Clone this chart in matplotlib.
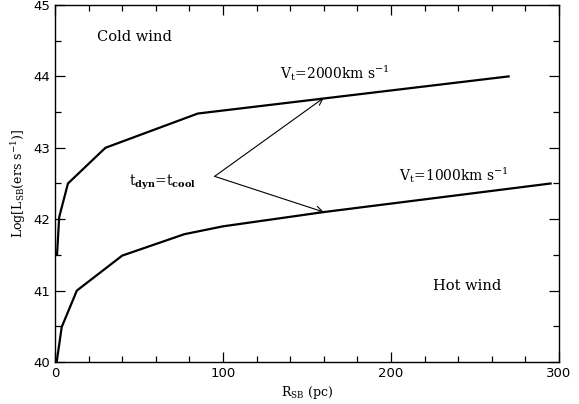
import matplotlib
matplotlib.use('Agg')
import matplotlib.pyplot as plt
from matplotlib.ticker import MultipleLocator

# curve values
r_2000 = [1.2, 2.5, 7.7, 30, 85, 270]
l_2000 = [41.5, 42.03, 42.5, 43.0, 43.48, 44.0]

r_1000 = [1.0, 4.0, 13, 40, 77, 100, 130, 160, 295]
l_1000 = [40.0, 40.49, 41.0, 41.49, 41.79, 41.9, 42.0, 42.1, 42.5]

# arrow from label to both curves
arrow_start = (95, 42.6)
arrow_ends = [(160, 43.70), (160, 42.1)]

plt.rcParams['font.family'] = ['DejaVu Serif']
plt.rcParams['mathtext.fontset'] = 'dejavuserif'

fig = plt.figure(figsize=(5.79, 4.04), dpi=100)
ax = fig.add_axes([0.095, 0.104, 0.8705, 0.8836])

ax.plot(r_2000, l_2000, color='black', lw=1.6)
ax.plot(r_1000, l_1000, color='black', lw=1.6)

for end in arrow_ends:
    ax.annotate('', xy=end, xytext=arrow_start,
                arrowprops=dict(arrowstyle='->', color='black', lw=0.8,
                                shrinkA=0, shrinkB=0, mutation_scale=12))

ax.text(25, 44.55, 'Cold wind', fontsize=10.5, va='center')
ax.text(225, 41.06, 'Hot wind', fontsize=10.5, va='center')
ax.text(134, 44.05, r'V$_{\mathrm{t}}$=2000km s$^{-1}$', fontsize=10, va='center')
ax.text(205, 42.62, r'V$_{\mathrm{t}}$=1000km s$^{-1}$', fontsize=10, va='center')
ax.text(44, 42.52, r't$_{\mathbf{dyn}}$=t$_{\mathbf{cool}}$', fontsize=10, va='center')

ax.set_xlim(0, 300)
ax.set_ylim(40, 45)
ax.xaxis.set_major_locator(MultipleLocator(100))
ax.xaxis.set_minor_locator(MultipleLocator(20))
ax.yaxis.set_major_locator(MultipleLocator(1))
ax.yaxis.set_minor_locator(MultipleLocator(0.5))
ax.tick_params(which='both', direction='in', top=True, right=True, labelsize=9.5, width=0.9)
ax.tick_params(which='major', length=7)
ax.tick_params(which='minor', length=4)
for lab in ax.get_xticklabels() + ax.get_yticklabels():
    lab.set_family('DejaVu Sans')
for s in ax.spines.values():
    s.set_linewidth(1.0)

ax.set_xlabel(r'R$_{\mathrm{SB}}$ (pc)', fontsize=9, labelpad=3)
ax.set_ylabel(r'Log[L$_{\mathrm{SB}}$(ers s$^{-1}$)]', fontsize=9, labelpad=4)

fig.savefig('out.png', dpi=100)
